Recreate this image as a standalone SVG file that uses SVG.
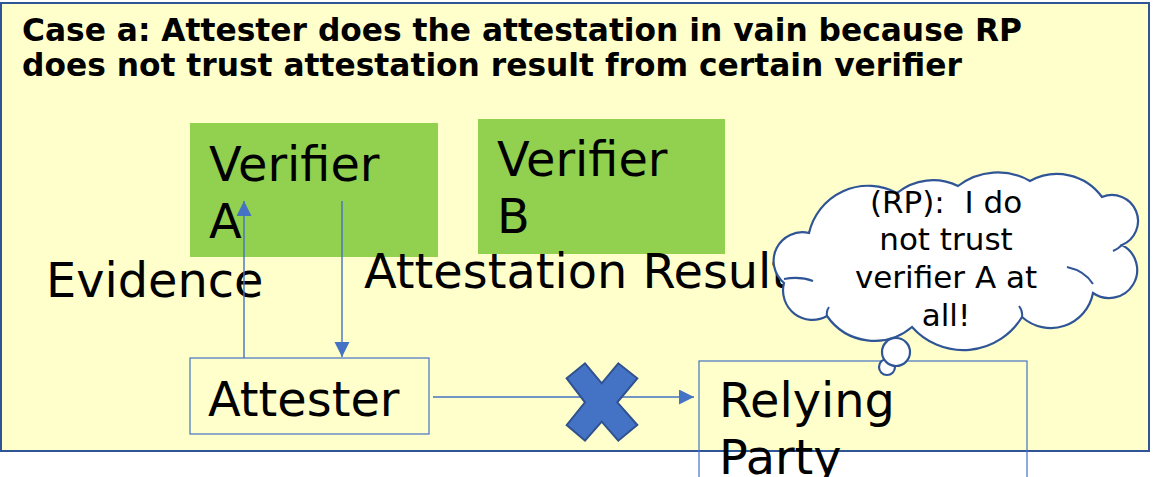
<svg xmlns="http://www.w3.org/2000/svg" width="1154" height="477" viewBox="0 0 1154 477">
  <style>
    .t { font-family: "DejaVu Sans", "Liberation Sans", sans-serif; fill: #000; }
    .title { font-size: 31.3px; font-weight: bold; }
    .big { font-size: 47.8px; }
    .cloudtxt { font-size: 31px; text-anchor: middle; white-space: pre; }
    .ver { fill: #92D050; }
    .box { fill: none; stroke: #4472C4; stroke-width: 1.2; }
    .conn { stroke: #4472C4; stroke-width: 1.4; fill: none; }
    .cloud { fill: #FFFFFF; stroke: #2F5597; stroke-width: 2.2; }
  </style>
  <defs>
    <marker id="arr" markerUnits="userSpaceOnUse" markerWidth="16" markerHeight="16" refX="15" refY="7.5" orient="auto">
      <path d="M0,0 L15,7.5 L0,15 Z" fill="#4472C4"/>
    </marker>
  </defs>

  <g id="frame">
    <rect x="1" y="3" width="1148" height="448" fill="#FFFFCC" stroke="#2F5597" stroke-width="2"/>
    <text class="t title" x="22" y="41">Case a: Attester does the attestation in vain because RP</text>
    <text class="t title" x="22" y="76">does not trust attestation result from certain verifier</text>
  </g>

  <g id="verifierA">
    <rect class="ver" x="190" y="123" width="248" height="134"/>
    <text class="t big" x="209" y="181">Verifier</text>
    <text class="t big" x="209" y="238">A</text>
  </g>

  <g id="verifierB">
    <rect class="ver" x="478" y="119" width="247" height="135"/>
    <text class="t big" x="497" y="176">Verifier</text>
    <text class="t big" x="497" y="233">B</text>
  </g>

  <g id="attester">
    <rect class="box" x="190" y="358" width="239" height="76"/>
    <text class="t big" x="208" y="416">Attester</text>
  </g>

  <g id="relyingParty">
    <rect class="box" x="699" y="361" width="328" height="130"/>
    <text class="t big" x="719" y="417">Relying</text>
    <text class="t big" x="719" y="474">Party</text>
  </g>

  <g id="labels">
    <text class="t big" x="46" y="297">Evidence</text>
    <text class="t big" x="364" y="288">Attestation Result</text>
  </g>

  <g id="connectors">
    <line class="conn" x1="244" y1="358" x2="244" y2="201" marker-end="url(#arr)"/>
    <line class="conn" x1="342" y1="201" x2="342" y2="357" marker-end="url(#arr)"/>
    <line class="conn" x1="433" y1="397" x2="694" y2="397" marker-end="url(#arr)"/>
  </g>

  <g id="cross">
    <polygon points="566.7,378.3 585,363.3 601.7,383.3 618.3,363.3 637.3,378.3 617.3,402.3 637.3,425 618.3,440.7 601.7,421.7 585,440.7 566.7,425 585,402.3" fill="#4472C4" stroke="#2F528F" stroke-width="2"/>
  </g>

  <g id="thoughtCloud">
    <path class="cloud" d="M809,233 A60.7,60.7 0 0 1 897,193 A56.8,56.8 0 0 1 958,186 A64.7,64.7 0 0 1 1030,181 A55.6,55.6 0 0 1 1102,197 A25,25 0 0 1 1122,245 A28.1,28.1 0 1 1 1093,293 A43,43 0 0 1 1022,317 A68.5,68.5 0 0 1 912,327 A57.8,57.8 0 0 1 827,316 A29.4,29.4 0 0 1 784,283 A28.7,28.7 0 0 1 809,233 Z"/>
    <path d="M784,279 Q800,276 813,281 M1067,267 Q1085,271 1093,284 M1019,306 Q1023,311 1022,317 M827,316 Q826,311 829,307 M1122,245 Q1118,249 1113,251" fill="none" stroke="#2F5597" stroke-width="2"/>
    <circle class="cloud" cx="887" cy="367" r="8"/>
    <circle class="cloud" cx="896" cy="352" r="14"/>
    <text class="t cloudtxt" x="946" y="213">(RP):  I do</text>
    <text class="t cloudtxt" x="946" y="250">not trust</text>
    <text class="t cloudtxt" x="946" y="288">verifier A at</text>
    <text class="t cloudtxt" x="946" y="326">all!</text>
  </g>
</svg>
